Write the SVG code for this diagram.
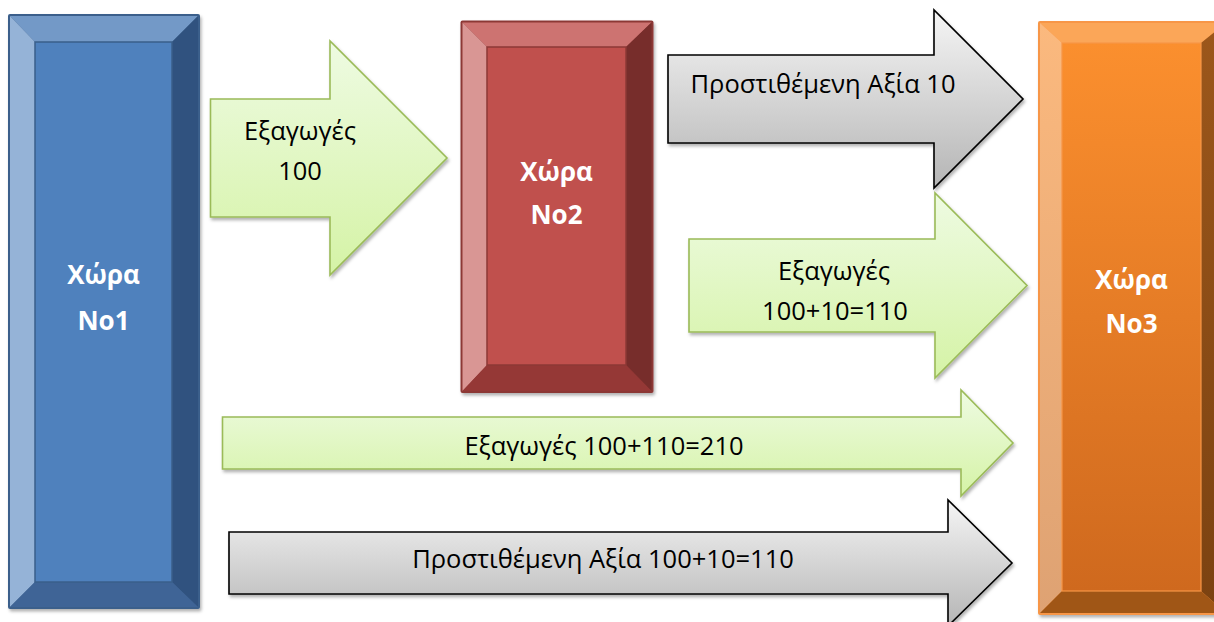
<svg xmlns="http://www.w3.org/2000/svg" width="1214" height="622" viewBox="0 0 1214 622">
<style>
.lbl{font-family:"Open Sans","Noto Sans","Liberation Sans",sans-serif;font-size:25.5px;fill:#000;text-anchor:middle}
.box{font-family:"Open Sans","Noto Sans","Liberation Sans",sans-serif;font-size:26px;font-weight:bold;fill:#fff;text-anchor:middle}
.ga{fill:url(#greenGrad);stroke:#9BBB59;stroke-width:1.6;stroke-linejoin:miter;filter:url(#sh)}
.ya{fill:url(#greyGrad);stroke:#000;stroke-width:1.6;stroke-linejoin:miter;filter:url(#sh)}
</style>
<defs>
<linearGradient id="greenGrad" x1="0" y1="0" x2="0" y2="1">
<stop offset="0" stop-color="#EEFBE2"/><stop offset="1" stop-color="#D5F3A6"/>
</linearGradient>
<linearGradient id="greyGrad" x1="0" y1="0" x2="0" y2="1">
<stop offset="0" stop-color="#F5F5F5"/><stop offset="1" stop-color="#B5B5B5"/>
</linearGradient>
<linearGradient id="orFace" x1="0" y1="0" x2="0" y2="1">
<stop offset="0" stop-color="#FB8F2E"/><stop offset="1" stop-color="#CF691E"/>
</linearGradient>
<linearGradient id="orLeft" x1="0" y1="0" x2="0" y2="1">
<stop offset="0" stop-color="#FBB97E"/><stop offset="1" stop-color="#DEA273"/>
</linearGradient>
<linearGradient id="orRight" x1="0" y1="0" x2="0" y2="1">
<stop offset="0" stop-color="#9C571B"/><stop offset="1" stop-color="#7B4211"/>
</linearGradient>
<filter id="sh" x="-10%" y="-10%" width="130%" height="140%">
<feDropShadow dx="1.5" dy="2.5" stdDeviation="1.8" flood-color="#000" flood-opacity="0.3"/>
</filter>
</defs>
<rect width="1214" height="622" fill="#fff"/>

<g id="node-country1">
<rect x="8" y="14" width="192" height="595" fill="#3A5F8B" rx="2" filter="url(#sh)"/>
<polygon points="10,16 198,16 172,42 35,42" fill="#7399C7"/>
<polygon points="10,16 35,42 35,582 10,607" fill="#95B3D7"/>
<polygon points="198,16 198,607 172,582 172,42" fill="#30527F"/>
<polygon points="10,607 35,582 172,582 198,607" fill="#3F6496"/>
<rect x="35" y="42" width="137" height="540" fill="#4F81BD" stroke="#3A5F8B" stroke-width="1.5"/>
<text class="box" x="103.5" y="284">Χώρα</text>
<text class="box" x="103.5" y="330">Νο1</text>
</g>

<g id="node-country2">
<rect x="460.5" y="20.5" width="193" height="372.5" fill="#8C3836" rx="2" filter="url(#sh)"/>
<polygon points="462.5,22.5 651.5,22.5 626,47 487,47" fill="#CD7371"/>
<polygon points="462.5,22.5 487,47 487,365 462.5,391" fill="#D99694"/>
<polygon points="651.5,22.5 651.5,391 626,365 626,47" fill="#772D2B"/>
<polygon points="462.5,391 487,365 626,365 651.5,391" fill="#953836"/>
<rect x="487" y="47" width="139" height="318" fill="#C0504D" stroke="#8C3836" stroke-width="1.5"/>
<text class="box" x="556.5" y="181">Χώρα</text>
<text class="box" x="556.5" y="224">Νο2</text>
</g>

<g id="node-country3">
<rect x="1038" y="21" width="190" height="594" fill="#F79646" rx="2" filter="url(#sh)"/>
<polygon points="1040,23 1226,23 1201,43 1062,43" fill="#FBA658"/>
<polygon points="1040,23 1062,43 1062,591 1040,613" fill="url(#orLeft)"/>
<polygon points="1226,23 1226,613 1201,591 1201,43" fill="url(#orRight)"/>
<polygon points="1040,613 1062,591 1201,591 1226,613" fill="#A05616"/>
<rect x="1062" y="43" width="139" height="548" fill="url(#orFace)" stroke="#F79646" stroke-width="1.2"/>
<text class="box" x="1131.5" y="289">Χώρα</text>
<text class="box" x="1131.5" y="333">Νο3</text>
</g>

<g id="connectors">
<g id="arrow-exports-100">
<path class="ga" d="M210.5,99 H330 V41 L447,158 L330,275 V217 H210.5 Z"/>
<text class="lbl" x="300" y="140">Εξαγωγές</text>
<text class="lbl" x="300" y="180">100</text>
</g>
<g id="arrow-added-10">
<path class="ya" d="M668,55 H934 V10 L1023,99 L934,188 V143 H668 Z"/>
<text class="lbl" x="823" y="93">Προστιθέμενη Αξία 10</text>
</g>
<g id="arrow-exports-110">
<path class="ga" d="M689,239 H935 V193 L1027,285.5 L935,378 V332 H689 Z"/>
<text class="lbl" x="834" y="280">Εξαγωγές</text>
<text class="lbl" x="835" y="320">100+10=110</text>
</g>
<g id="arrow-exports-210">
<path class="ga" d="M222.5,417 H961 V390 L1013,443 L961,496 V469 H222.5 Z"/>
<text class="lbl" x="604" y="455">Εξαγωγές 100+110=210</text>
</g>
<g id="arrow-added-110">
<path class="ya" d="M229,532 H948 V500 L1012,563 L948,626 V594 H229 Z"/>
<text class="lbl" x="603" y="568">Προστιθέμενη Αξία 100+10=110</text>
</g>
</g>
</svg>
